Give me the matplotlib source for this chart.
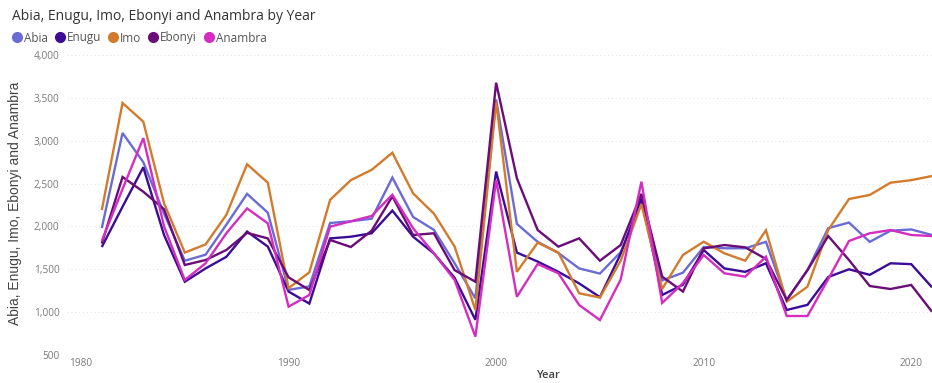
import matplotlib
matplotlib.use("Agg")
import matplotlib.pyplot as plt
from matplotlib.lines import Line2D
from matplotlib.ticker import FuncFormatter, MultipleLocator
from matplotlib import font_manager

years = list(range(1981, 2022))

abia = [1980, 3090, 2750, 2150, 1600, 1670, 2020, 2380, 2160, 1260,
        1300, 2040, 2060, 2090, 2570, 2110, 1960, 1570, 1160, 3480,
        2030, 1820, 1690, 1510, 1450, 1700, 2280, 1370, 1460, 1760,
        1745, 1745, 1820, 1140, 1490, 1980, 2045, 1820, 1950, 1965, 1900]

enugu = [1760, 2230, 2690, 1900, 1355, 1510, 1645, 1940, 1765, 1240,
         1100, 1860, 1880, 1920, 2185, 1880, 1685, 1400, 910, 2640,
         1695, 1590, 1470, 1335, 1175, 1680, 2330, 1200, 1320, 1725,
         1510, 1470, 1570, 1025, 1085, 1410, 1500, 1435, 1570, 1560, 1290]

imo = [2190, 3440, 3222, 2270, 1695, 1790, 2135, 2725, 2510, 1280,
       1465, 2310, 2540, 2660, 2860, 2385, 2150, 1765, 1025, 3455,
       1470, 1810, 1695, 1220, 1170, 1600, 2260, 1270, 1667, 1822,
       1686, 1600, 1955, 1122, 1297, 1958, 2320, 2367, 2510, 2540, 2588]

ebonyi = [1800, 2577, 2405, 2200, 1550, 1608, 1725, 1925, 1860, 1406,
          1258, 1842, 1760, 1950, 2350, 1900, 1920, 1490, 1355, 3677,
          2561, 1958, 1764, 1861, 1600, 1783, 2380, 1414, 1240, 1744,
          1783, 1756, 1620, 1142, 1490, 1888, 1608, 1305, 1270, 1317, 1005]

anambra = [1830, 2436, 3030, 2000, 1375, 1570, 1920, 2210, 2036, 1064,
           1200, 1997, 2060, 2122, 2370, 1978, 1686, 1375, 714, 2542,
           1180, 1562, 1453, 1083, 908, 1380, 2522, 1107, 1340, 1667,
           1453, 1414, 1647, 955, 955, 1385, 1830, 1920, 1958, 1900, 1888]

series_names = ["Abia", "Enugu", "Imo", "Ebonyi", "Anambra"]
series_values = [abia, enugu, imo, ebonyi, anambra]
series_colors = ["#6B6BD6", "#3C0C96", "#D27B2C", "#6A0D78", "#D42DC0"]

installed = {f.name for f in font_manager.fontManager.ttflist}
base_font = "Open Sans" if "Open Sans" in installed else "DejaVu Sans"
narrow_font = "Liberation Sans Narrow" if "Liberation Sans Narrow" in installed else "Liberation Sans"
plt.rcParams["font.family"] = [base_font, "DejaVu Sans"]

W, H = 932, 383
fig = plt.figure(figsize=(W / 100, H / 100), dpi=100)
left_px, right_px, top_px, bottom_px = 66.5, 932, 55, 355
ax = fig.add_axes([left_px / W, 1 - bottom_px / H,
                   (right_px - left_px) / W, (bottom_px - top_px) / H])

for name, vals, col in zip(series_names, series_values, series_colors):
    ax.plot(years, vals, color=col, lw=1.7, solid_joinstyle="miter",
            solid_capstyle="butt", label=name)

ax.set_xlim(1979.3, 2021.0)
ax.set_ylim(500, 4000)
ax.yaxis.set_major_locator(MultipleLocator(500))
ax.xaxis.set_major_locator(MultipleLocator(10))
ax.yaxis.set_major_formatter(FuncFormatter(lambda v, p: f"{int(v):,}"))
ax.grid(axis="y", color="#e2e2e2", lw=0.7, linestyle=(0, (1, 3)))
ax.set_axisbelow(True)
for s in ax.spines.values():
    s.set_visible(False)
ax.tick_params(axis="both", length=0, labelsize=7.3, labelcolor="#7a7a7a")
ax.tick_params(axis="y", pad=5)
ax.tick_params(axis="x", pad=2)

fig.text(12 / W, 1 - 17 / H, "Abia, Enugu, Imo, Ebonyi and Anambra by Year",
         ha="left", va="center", fontsize=10, color="#333333")

handles = [Line2D([], [], marker="o", ls="", color=c, markersize=7)
           for c in series_colors]
fig.legend(handles, series_names, loc="center left",
           bbox_to_anchor=(11 / W, 1 - 38 / H), ncol=5, frameon=False,
           fontsize=8.5, handletextpad=0.1, columnspacing=0.5,
           handlelength=1.0, borderpad=0, borderaxespad=0,
           labelcolor="#555555")

fig.text(15 / W, 1 - 203 / H, "Abia, Enugu, Imo, Ebonyi and Anambra",
         rotation=90, ha="center", va="center", fontsize=10,
         color="#444444", family=[narrow_font, "DejaVu Sans"])
fig.text(548 / W, 1 - 376 / H, "Year", ha="center", va="center",
         fontsize=8, color="#444444", fontweight="semibold")

fig.savefig("out.png", dpi=100, facecolor="white")
